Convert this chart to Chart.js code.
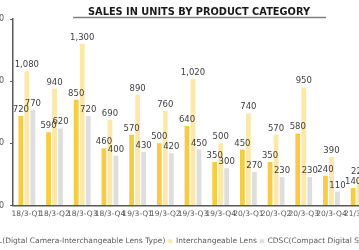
<!DOCTYPE html>
<html><head><meta charset="utf-8">
<script src="https://cdn.jsdelivr.net/npm/chart.js@4"></script>
<style>
html,body{margin:0;padding:0;background:#fff;overflow:hidden;width:359px;height:250px;position:relative;}
#wrap{position:absolute;left:-40px;top:0;width:478px;height:255px;}
</style></head><body>
<div id="wrap"><canvas id="c" width="478" height="255"></canvas></div>
<script>
const categories = ["18/3-Q1","18/3-Q2","18/3-Q3","18/3-Q4","19/3-Q1","19/3-Q2","19/3-Q3","19/3-Q4","20/3-Q1","20/3-Q2","20/3-Q3","20/3-Q4","21/3-Q1"];
const dcilUnits = [720,590,850,460,570,500,640,350,450,350,580,240,140];
const lensUnits = [1080,940,1300,690,890,760,1020,500,740,570,950,390,220];
const cdscUnits = [770,620,720,400,430,420,450,300,270,230,230,110,null];
const seriesNames = ["DCIL(Digtal Camera-Interchangeable Lens Type)","Interchangeable Lens","CDSC(Compact Digital Still Camera)"];
const yTicks = [0,500,1000,1500];
const titleText = "SALES IN UNITS BY PRODUCT CATEGORY";

const FONT = "'DejaVu Sans', Verdana, sans-serif";
const TITLE_SIZE = 9.8;
const colors = ["#F8CB45","#FCE8A8","#DEDEDE"];

const titlePlugin = {
  id: 'underlinedTitle',
  afterDraw(chart) {
    const ctx = chart.ctx;
    ctx.save();
    ctx.font = "bold " + TITLE_SIZE + "px " + FONT;
    const w = ctx.measureText(titleText).width;
    const cx = chart.width / 2;
    ctx.fillStyle = "#1a1a1a";
    ctx.textAlign = "center";
    ctx.textBaseline = "alphabetic";
    ctx.fillText(titleText, cx, 14.5);
    ctx.strokeStyle = "#808080";
    ctx.lineWidth = 1.5;
    ctx.beginPath();
    ctx.moveTo(cx - w/2 - 15, 17.5);
    ctx.lineTo(cx + w/2 + 16, 17.5);
    ctx.stroke();
    ctx.restore();
  }
};

const valueLabels = {
  id: 'valueLabels',
  afterDatasetsDraw(chart) {
    const ctx = chart.ctx;
    ctx.save();
    ctx.font = "8.5px " + FONT;
    ctx.fillStyle = "#404040";
    ctx.textAlign = "center";
    ctx.textBaseline = "bottom";
    chart.data.datasets.forEach((ds, i) => {
      const meta = chart.getDatasetMeta(i);
      meta.data.forEach((el, j) => {
        const v = ds.data[j];
        if (v === null || v === undefined) return;
        ctx.fillText(v.toLocaleString('en-US'), el.x, el.y - 2);
      });
    });
    ctx.restore();
  }
};

new Chart(document.getElementById('c'), {
  type: 'bar',
  data: {
    labels: categories,
    datasets: [
      {label: seriesNames[0], data: dcilUnits, backgroundColor: colors[0]},
      {label: seriesNames[1], data: lensUnits, backgroundColor: colors[1]},
      {label: seriesNames[2], data: cdscUnits, backgroundColor: colors[2]}
    ]
  },
  options: {
    responsive: false,
    animation: false,
    devicePixelRatio: 1,
    categoryPercentage: 0.65,
    barPercentage: 0.8,
    layout: {padding: {top: 19, right: 18, left: 0, bottom: 0}},
    plugins: {
      title: {display: false},
      legend: {position: 'bottom',
        labels: {boxWidth: 4, boxHeight: 4, padding: 3, color: "#595959",
          font: {family: FONT, size: 7.5}}},
      tooltip: {enabled: false}
    },
    scales: {
      x: {
        grid: {display: false, drawTicks: false},
        border: {display: true, color: "#595959", width: 1.5},
        ticks: {font: {family: FONT, size: 7.5}, color: "#595959", maxRotation: 0, autoSkip: false, padding: 4},
        afterFit(s) { s.height = 29; }
      },
      y: {
        min: 0, max: 1500,
        afterBuildTicks(s) { s.ticks = yTicks.map(v => ({value: v})); },
        grid: {display: true, drawOnChartArea: false, drawTicks: true, tickLength: 3, color: "#595959", lineWidth: 1},
        border: {display: true, color: "#595959", width: 1.5},
        ticks: {font: {family: FONT, size: 8}, color: "#595959", padding: 6,
          callback: v => v.toLocaleString('en-US')},
        afterFit(s) { s.width = 53; }
      },
      spacer: {
        type: 'linear', position: 'right', display: true, min: 0, max: 1,
        grid: {display: false, drawTicks: false},
        border: {display: false},
        ticks: {display: false},
        afterFit(s) { s.width = 47; }
      }
    }
  },
  plugins: [titlePlugin, valueLabels]
});
</script>
</body></html>
